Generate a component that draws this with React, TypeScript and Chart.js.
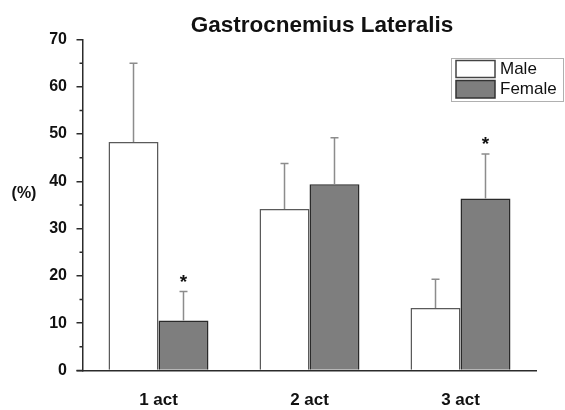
import React, { useEffect, useRef } from 'react';
import { Chart, registerables } from 'chart.js';
Chart.register(...registerables);

const FONT = '"Liberation Sans", Arial, Helvetica, sans-serif';

const categories = ['1 act', '2 act', '3 act'];
const seriesNames = ['Male', 'Female'];
const maleValues = [48.3, 34.15, 13.2];
const maleErrors = [16.7, 9.65, 6.1];
const femaleValues = [10.6, 39.4, 36.4];
const femaleErrors = [6.1, 9.8, 9.4];
const femaleSignificant = [true, false, true];
const yMin = 0;
const yMax = 70;
const yStep = 10;
const yMinorStep = 5;

const AXIS = '#2b2b2b';
const FEMALE_FILL = '#7e7e7e';

const extras = {
  id: 'extras',
  afterDatasetsDraw(chart: any) {
    const ctx = chart.ctx;
    const ys = chart.scales.y;
    const errs = [maleErrors, femaleErrors];
    const vals = [maleValues, femaleValues];
    ctx.save();
    chart.data.datasets.forEach((_: any, di: number) => {
      const meta = chart.getDatasetMeta(di);
      meta.data.forEach((el: any, i: number) => {
        const top = ys.getPixelForValue(vals[di][i] + errs[di][i]);
        ctx.strokeStyle = '#8c8c8c';
        ctx.lineWidth = 1.5;
        ctx.beginPath();
        ctx.moveTo(el.x, el.y);
        ctx.lineTo(el.x, top);
        ctx.moveTo(el.x - 4, top);
        ctx.lineTo(el.x + 4, top);
        ctx.stroke();
        if (di === 1 && femaleSignificant[i]) {
          ctx.fillStyle = '#111';
          ctx.font = `bold 19px ${FONT}`;
          ctx.textAlign = 'center';
          ctx.textBaseline = 'middle';
          ctx.fillText('*', el.x, top - 9);
        }
      });
    });
    ctx.restore();
  },
  afterDraw(chart: any) {
    const ctx = chart.ctx;
    const ys = chart.scales.y;
    const area = chart.chartArea;
    ctx.save();
    // minor ticks
    ctx.strokeStyle = AXIS;
    ctx.lineWidth = 1.5;
    ctx.beginPath();
    for (let v = yMin + yMinorStep; v < yMax; v += yStep) {
      const y = ys.getPixelForValue(v);
      ctx.moveTo(area.left, y);
      ctx.lineTo(area.left - 3.5, y);
    }
    // x-axis extension under y tick
    const y0 = ys.getPixelForValue(0);
    ctx.moveTo(area.left - 6.5, y0);
    ctx.lineTo(area.left, y0);
    ctx.stroke();
    // title
    ctx.fillStyle = '#111';
    ctx.font = `bold 22.5px ${FONT}`;
    ctx.textAlign = 'center';
    ctx.textBaseline = 'alphabetic';
    ctx.fillText('Gastrocnemius Lateralis', 322, 31.5);
    // y title
    ctx.font = `bold 16px ${FONT}`;
    ctx.textBaseline = 'middle';
    ctx.fillText('(%)', 24, 194);
    // legend
    ctx.strokeStyle = '#b0b0b0';
    ctx.lineWidth = 1;
    ctx.strokeRect(451.5, 58.5, 112, 43);
    ctx.fillStyle = '#ffffff';
    ctx.fillRect(456, 60.5, 39, 17);
    ctx.strokeStyle = '#444';
    ctx.lineWidth = 1.5;
    ctx.strokeRect(456, 60.5, 39, 17);
    ctx.fillStyle = FEMALE_FILL;
    ctx.fillRect(456, 80.5, 39, 17.5);
    ctx.strokeStyle = '#333';
    ctx.strokeRect(456, 80.5, 39, 17.5);
    ctx.fillStyle = '#111';
    ctx.font = `17px ${FONT}`;
    ctx.textAlign = 'left';
    ctx.textBaseline = 'middle';
    ctx.fillText(seriesNames[0], 500, 69.5);
    ctx.fillText(seriesNames[1], 500, 89.5);
    ctx.restore();
  },
};

export default function App() {
  const ref = useRef<HTMLCanvasElement>(null);
  useEffect(() => {
    const chart = new Chart(ref.current!, {
      type: 'bar',
      data: {
        labels: categories,
        datasets: [
          {
            label: seriesNames[0],
            data: maleValues,
            backgroundColor: '#ffffff',
            borderColor: '#5a5a5a',
            borderWidth: 1.5,
            barPercentage: 1,
            categoryPercentage: 0.662,
          },
          {
            label: seriesNames[1],
            data: femaleValues,
            backgroundColor: FEMALE_FILL,
            borderColor: '#2a2a2a',
            borderWidth: 1.5,
            barPercentage: 1,
            categoryPercentage: 0.662,
          },
        ],
      },
      options: {
        responsive: false,
        maintainAspectRatio: false,
        animation: false,
        layout: { padding: { top: 39.5, right: 29, left: 0, bottom: 0 } },
        plugins: { legend: { display: false }, title: { display: false }, tooltip: { enabled: false } },
        scales: {
          x: {
            afterFit: (s: any) => { s.height = 39.5; },
            grid: { display: true, drawOnChartArea: false, drawTicks: false, color: AXIS },
            border: { display: true, color: AXIS, width: 1.5 },
            ticks: { color: '#111', font: { family: FONT, size: 17, weight: 'bold' }, padding: 20 },
          },
          y: {
            min: yMin,
            max: yMax,
            afterFit: (s: any) => { s.width = 83; },
            grid: { display: true, drawOnChartArea: false, drawTicks: true, tickLength: 6.5, color: AXIS, lineWidth: 1.5 },
            border: { display: true, color: AXIS, width: 1.5 },
            ticks: { stepSize: yStep, color: '#111', font: { family: FONT, size: 16, weight: 'bold' }, padding: 9.5 },
          },
        },
      },
      plugins: [extras],
    } as any);
    return () => chart.destroy();
  }, []);
  return (
    <div style={{ position: 'absolute', left: 0, top: 0, width: 565, height: 410, background: '#fff' }}>
      <canvas ref={ref} width={565} height={410} style={{ width: 565, height: 410, display: 'block' }} />
    </div>
  );
}
